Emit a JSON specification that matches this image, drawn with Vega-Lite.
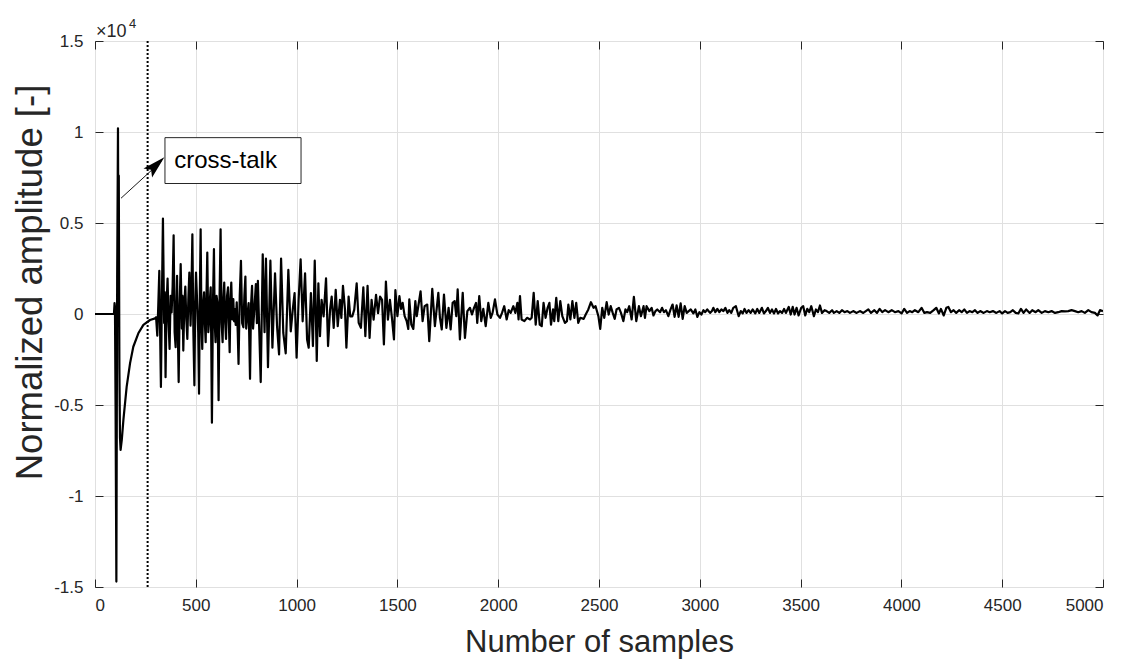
{
  "$schema": "https://vega.github.io/schema/vega-lite/v6.json",
  "autosize": {"type": "none"},
  "padding": {"left": 95, "top": 41, "right": 25, "bottom": 73},
  "width": 1008,
  "height": 546,
  "background": "white",
  "config": {
    "font": "Liberation Sans",
    "view": {"stroke": "#262626", "strokeWidth": 1}
  },
  "resolve": {"axis": {"x": "independent", "y": "independent"}},
  "layer": [
    {
      "data": {"values": [
        {"s":0,"a":0},{"s":94,"a":0},{"s":97,"a":0.06},{"s":99,"a":0.04},{"s":102,"a":-0.5},{"s":106,"a":-1.47},{"s":110,"a":0.2},{"s":114,"a":1.02},{"s":116,"a":0.3},{"s":118,"a":0.76},{"s":121,"a":-0.3},{"s":124,"a":-0.68},{"s":127,"a":-0.747},{"s":133,"a":-0.69},{"s":141,"a":-0.58},{"s":157,"a":-0.4},{"s":174,"a":-0.27},{"s":190,"a":-0.18},{"s":215,"a":-0.106},{"s":240,"a":-0.06},{"s":273,"a":-0.033},{"s":298,"a":-0.024},{"s":303,"a":-0.018},
        {"s":309,"a":-0.119},{"s":314,"a":0.05},{"s":319,"a":0.237},{"s":323,"a":-0.1},{"s":327,"a":-0.401},{"s":332,"a":0.1},{"s":337,"a":0.524},{"s":343,"a":-0.05},{"s":346,"a":0.12},{"s":350,"a":-0.347},{"s":355,"a":0.05},{"s":360,"a":0.195},{"s":365,"a":-0.05},{"s":370,"a":-0.192},{"s":375,"a":0.1},{"s":380,"a":0.009},{"s":385,"a":0.15},{"s":390,"a":0.432},{"s":395,"a":-0.1},{"s":400,"a":-0.182},{"s":404,"a":0.05},{"s":407,"a":0.21},{"s":411,"a":-0.1},{"s":415,"a":-0.374},{"s":420,"a":0.05},{"s":425,"a":0.274},{"s":431,"a":-0.08},{"s":434,"a":0.1},{"s":438,"a":-0.201},{"s":443,"a":0.05},{"s":448,"a":0.151},{"s":453,"a":-0.03},{"s":458,"a":-0.137},{"s":463,"a":0.08},{"s":468,"a":0.228},{"s":474,"a":-0.064},{"s":478,"a":0.1},{"s":483,"a":0.438},{"s":488,"a":-0.1},{"s":493,"a":-0.392},{"s":497,"a":0.05},{"s":501,"a":0.228},{"s":508,"a":0.027},{"s":512,"a":-0.1},{"s":516,"a":-0.438},{"s":520,"a":0.1},{"s":524,"a":0.465},{"s":528,"a":-0.05},{"s":532,"a":-0.192},{"s":536,"a":0.05},{"s":541,"a":0.119},{"s":545,"a":-0.05},{"s":549,"a":-0.155},{"s":553,"a":0.1},{"s":557,"a":0.338},{"s":562,"a":-0.1},{"s":567,"a":-0.027},{"s":570,"a":0.08},{"s":574,"a":0.146},{"s":577,"a":-0.2},{"s":580,"a":-0.597},{"s":585,"a":0.05},{"s":590,"a":0.356},{"s":594,"a":-0.05},{"s":598,"a":-0.155},{"s":603,"a":0.1},{"s":607,"a":0.064},{"s":610,"a":-0.15},{"s":613,"a":-0.474},{"s":618,"a":0.1},{"s":623,"a":0.465},{"s":628,"a":-0.05},{"s":633,"a":-0.155},{"s":637,"a":0.08},{"s":641,"a":0.173},{"s":646,"a":-0.05},{"s":650,"a":-0.137},{"s":655,"a":0.1},{"s":660,"a":0.146},{"s":664,"a":-0.05},{"s":668,"a":-0.21},{"s":672,"a":0.08},{"s":676,"a":0.173},{"s":681,"a":-0.03},{"s":686,"a":0.082},{"s":690,"a":-0.04},{"s":694,"a":0.027},{"s":698,"a":-0.06},{"s":703,"a":0.064},{"s":708,"a":-0.1},{"s":712,"a":-0.274},{"s":718,"a":0.1},{"s":724,"a":0.292},{"s":730,"a":-0.05},{"s":736,"a":-0.073},{"s":741,"a":0.1},{"s":746,"a":0.206},{"s":750,"a":-0.08},{"s":755,"a":-0.018},{"s":762,"a":0.06},{"s":769,"a":-0.356},{"s":774,"a":0.05},{"s":779,"a":0.155},{"s":784,"a":-0.08},{"s":789,"a":0},{"s":798,"a":0.164},{"s":803,"a":-0.05},{"s":808,"a":0.182},{"s":815,"a":-0.1},{"s":822,"a":-0.374},{"s":832,"a":0.328},{"s":841,"a":-0.1},{"s":848,"a":0.305},{"s":858,"a":-0.292},
        {"s":870,"a":0.293},{"s":880,"a":-0.185},{"s":893,"a":0.224},{"s":903,"a":-0.067},{"s":913,"a":-0.222},{"s":923,"a":0.305},{"s":934,"a":-0.104},{"s":946,"a":-0.216},{"s":959,"a":0.242},{"s":971,"a":-0.095},{"s":981,"a":0.024},{"s":990,"a":0.115},{"s":1000,"a":-0.24},{"s":1010,"a":0.078},{"s":1020,"a":0.3},{"s":1030,"a":-0.04},{"s":1042,"a":0.224},{"s":1052,"a":-0.14},{"s":1060,"a":-0.185},{"s":1071,"a":0.115},{"s":1081,"a":-0.176},{"s":1090,"a":0.293},{"s":1100,"a":-0.258},{"s":1108,"a":0.169},{"s":1116,"a":-0.122},{"s":1124,"a":0.078},{"s":1134,"a":-0.013},{"s":1146,"a":0.196},{"s":1156,"a":-0.176},{"s":1166,"a":0.024},{"s":1174,"a":0.096},{"s":1184,"a":-0.076},{"s":1194,"a":0.133},{"s":1204,"a":-0.067},{"s":1215,"a":0.078},{"s":1222,"a":-0.022},{"s":1230,"a":0.155},{"s":1240,"a":0.024},{"s":1247,"a":-0.185},{"s":1258,"a":0.096},{"s":1266,"a":-0.013},{"s":1276,"a":-0.013},{"s":1286,"a":0.024},{"s":1298,"a":0.169},{"s":1308,"a":-0.049},{"s":1319,"a":-0.076},{"s":1331,"a":0.147},{"s":1341,"a":-0.122},{"s":1352,"a":0.155},{"s":1362,"a":-0.131},{"s":1372,"a":0.078},{"s":1382,"a":-0.031},{"s":1394,"a":0.105},{"s":1404,"a":0.005},{"s":1414,"a":0.096},{"s":1424,"a":0.078},{"s":1433,"a":-0.167},{"s":1443,"a":0.178},{"s":1453,"a":-0.031},{"s":1463,"a":0.078},{"s":1473,"a":-0.022},{"s":1483,"a":-0.14},
        {"s":1490,"a":0.131},{"s":1500,"a":-0.012},{"s":1510,"a":0.098},{"s":1518,"a":0.028},{"s":1526,"a":0.061},{"s":1536,"a":-0.012},{"s":1546,"a":-0.039},{"s":1554,"a":-0.082},{"s":1559,"a":0.08},{"s":1569,"a":-0.058},{"s":1579,"a":-0.082},{"s":1589,"a":0.071},{"s":1596,"a":-0.012},{"s":1605,"a":0.052},{"s":1615,"a":0.125},{"s":1625,"a":-0.039},{"s":1635,"a":0.043},{"s":1648,"a":0.052},{"s":1658,"a":-0.149},{"s":1673,"a":0.138},{"s":1686,"a":-0.067},{"s":1703,"a":0.116},{"s":1711,"a":-0.021},{"s":1720,"a":-0.085},{"s":1731,"a":0.107},{"s":1743,"a":-0.076},{"s":1754,"a":0.034},{"s":1764,"a":-0.085},{"s":1774,"a":0.061},{"s":1784,"a":0.071},{"s":1792,"a":-0.012},{"s":1799,"a":0.135},{"s":1810,"a":-0.14},{"s":1824,"a":0.116},{"s":1835,"a":-0.131},{"s":1847,"a":0.016},{"s":1860,"a":0.034},{"s":1870,"a":-0.003},{"s":1880,"a":0.034},{"s":1890,"a":0.061},{"s":1896,"a":-0.049},{"s":1906,"a":0.098},{"s":1916,"a":-0.039},{"s":1926,"a":0.028},{"s":1938,"a":-0.067},{"s":1951,"a":0.061},{"s":1963,"a":-0.021},{"s":1972,"a":0.006},{"s":1984,"a":0.08},{"s":1996,"a":-0.003},{"s":2009,"a":-0.021},{"s":2019,"a":0.006},{"s":2030,"a":0.043},{"s":2042,"a":-0.03},{"s":2052,"a":0.021},{"s":2062,"a":0.006},{"s":2075,"a":0.043},{"s":2085,"a":0.006},{"s":2095,"a":0.061},{"s":2101,"a":-0.03},
        {"s":2108,"a":0.098},{"s":2116,"a":-0.03},{"s":2130,"a":-0.039},{"s":2143,"a":-0.021},{"s":2158,"a":-0.03},{"s":2166,"a":-0.021},{"s":2176,"a":0.116},{"s":2186,"a":-0.058},{"s":2196,"a":0.071},{"s":2206,"a":-0.058},{"s":2216,"a":-0.067},{"s":2225,"a":0.061},{"s":2235,"a":-0.021},{"s":2245,"a":0.034},{"s":2254,"a":0.061},{"s":2262,"a":-0.058},{"s":2272,"a":0.025},{"s":2278,"a":-0.039},{"s":2288,"a":0.089},{"s":2298,"a":-0.039},{"s":2308,"a":0.071},{"s":2318,"a":-0.012},{"s":2331,"a":-0.049},{"s":2341,"a":-0.039},{"s":2348,"a":0.052},{"s":2358,"a":-0.03},{"s":2368,"a":0.071},{"s":2378,"a":-0.021},{"s":2387,"a":0.061},{"s":2397,"a":-0.049},{"s":2407,"a":-0.021},{"s":2424,"a":-0.027},{"s":2434,"a":-0.003},{"s":2447,"a":0.025},{"s":2460,"a":0.065},{"s":2473,"a":0.034},{"s":2483,"a":0.043},{"s":2497,"a":-0.012},{"s":2506,"a":-0.082},{"s":2516,"a":0.034},{"s":2526,"a":-0.021},{"s":2538,"a":0.065},{"s":2548,"a":-0.003},{"s":2558,"a":0.043},{"s":2568,"a":0.006},{"s":2578,"a":-0.027},{"s":2587,"a":0.025},{"s":2599,"a":0.034},{"s":2609,"a":0.006},{"s":2621,"a":-0.039},{"s":2631,"a":0.025},{"s":2640,"a":0.01},{"s":2650,"a":0.043},{"s":2662,"a":-0.03},{"s":2673,"a":0.094},{"s":2685,"a":-0.039},{"s":2698,"a":0.043},{"s":2708,"a":-0.012},{"s":2721,"a":0.043},
        {"s":2728,"a":-0.021},{"s":2736,"a":0.043},{"s":2750,"a":0.016},{"s":2761,"a":0.034},{"s":2770,"a":-0.008},{"s":2780,"a":0.016},{"s":2789,"a":0.025},{"s":2803,"a":0.01},{"s":2813,"a":0.034},{"s":2822,"a":0.01},{"s":2832,"a":0.021},{"s":2844,"a":-0.012},{"s":2855,"a":0.025},{"s":2865,"a":0.052},{"s":2875,"a":-0.016},{"s":2885,"a":0.047},{"s":2895,"a":-0.016},{"s":2905,"a":0.058},{"s":2915,"a":-0.027},{"s":2925,"a":0.043},{"s":2935,"a":0.006},{"s":2945,"a":0.016},{"s":2955,"a":0.025},{"s":2968,"a":0.003},{"s":2978,"a":0.025},{"s":2988,"a":-0.016},{"s":2998,"a":0.01},{"s":3008,"a":-0.003},{"s":3018,"a":0.021},{"s":3027,"a":0.01},{"s":3037,"a":0.025},{"s":3051,"a":0.006},{"s":3060,"a":0.016},{"s":3067,"a":0.034},{"s":3077,"a":0.01},{"s":3087,"a":0.028},{"s":3097,"a":0.01},{"s":3107,"a":0.025},{"s":3117,"a":0.016},{"s":3127,"a":0.034},{"s":3137,"a":0.006},{"s":3146,"a":0.021},{"s":3156,"a":0.006},{"s":3166,"a":0.034},{"s":3179,"a":0.043},{"s":3193,"a":-0.012},{"s":3203,"a":0.016},{"s":3213,"a":0.003},{"s":3222,"a":0.028},{"s":3232,"a":0.006},{"s":3242,"a":0.021},{"s":3252,"a":0.006},{"s":3262,"a":0.025},{"s":3275,"a":0.003},{"s":3285,"a":0.028},{"s":3295,"a":0.006},{"s":3308,"a":0.034},{"s":3318,"a":0.003},{"s":3328,"a":0.016},{"s":3338,"a":0.034},{"s":3348,"a":0.006},{"s":3358,"a":0.025},{"s":3368,"a":0.003},{"s":3378,"a":0.028},{"s":3388,"a":0.003},{"s":3398,"a":0.016},{"s":3408,"a":0.006},{"s":3418,"a":0.028},{"s":3427,"a":0.006},{"s":3441,"a":0.039},{"s":3451,"a":-0.003},{"s":3461,"a":0.039},{"s":3470,"a":-0.003},{"s":3480,"a":0.034},{"s":3490,"a":-0.008},{"s":3503,"a":0.034},{"s":3513,"a":0.043},{"s":3523,"a":-0.008},{"s":3533,"a":0.028},{"s":3543,"a":0.01},{"s":3553,"a":0.043},{"s":3566,"a":-0.012},{"s":3576,"a":0.025},{"s":3586,"a":0.01},{"s":3596,"a":0.047},{"s":3606,"a":0.006},{"s":3619,"a":0.021},{"s":3629,"a":0.016},{"s":3642,"a":0.006},{"s":3656,"a":0.021},{"s":3665,"a":0.006},{"s":3679,"a":0.016},{"s":3692,"a":0.006},{"s":3705,"a":0.021},{"s":3718,"a":0.01},{"s":3732,"a":0.016},{"s":3745,"a":0.006},{"s":3761,"a":0.016},{"s":3778,"a":0.006},{"s":3794,"a":0.016},{"s":3811,"a":0.006},
        {"s":3836,"a":0.025},{"s":3849,"a":0.006},{"s":3866,"a":0.021},{"s":3879,"a":0.006},{"s":3892,"a":0.028},{"s":3905,"a":0.01},{"s":3919,"a":0.021},{"s":3935,"a":0.01},{"s":3952,"a":0.021},{"s":3968,"a":0.01},{"s":3985,"a":0.016},{"s":4001,"a":0.003},{"s":4014,"a":0.028},{"s":4028,"a":0.006},{"s":4041,"a":0.016},{"s":4054,"a":0.01},{"s":4067,"a":0.021},{"s":4084,"a":0.01},{"s":4100,"a":0.034},{"s":4114,"a":0.006},{"s":4127,"a":0.01},{"s":4143,"a":0.006},{"s":4160,"a":0.021},{"s":4173,"a":0.034},{"s":4186,"a":0.003},{"s":4196,"a":0.028},{"s":4210,"a":-0.008},{"s":4223,"a":0.034},{"s":4233,"a":0.039},{"s":4246,"a":0.01},{"s":4259,"a":0.021},{"s":4272,"a":0.006},{"s":4286,"a":0.021},{"s":4299,"a":0.01},{"s":4312,"a":0.025},{"s":4325,"a":0.006},{"s":4338,"a":0.016},{"s":4352,"a":0.01},{"s":4365,"a":0.021},{"s":4378,"a":0.006},{"s":4391,"a":0.016},{"s":4408,"a":0.006},{"s":4424,"a":0.016},{"s":4438,"a":0.01},{"s":4454,"a":0.016},{"s":4471,"a":0.006},{"s":4487,"a":0.016},{"s":4500,"a":0.003},{"s":4514,"a":0.016},{"s":4527,"a":0.006},{"s":4540,"a":0.01},{"s":4553,"a":0.021},{"s":4567,"a":0.006},{"s":4580,"a":0.003},{"s":4593,"a":0.028},{"s":4606,"a":0.006},{"s":4619,"a":0.025},{"s":4636,"a":0.006},{"s":4649,"a":0.021},{"s":4666,"a":0.01},{"s":4679,"a":0.021},{"s":4696,"a":0.006},{"s":4712,"a":0.016},{"s":4729,"a":0.01},{"s":4745,"a":0.016},{"s":4762,"a":0.006},{"s":4778,"a":0.01},{"s":4795,"a":0.016},{"s":4811,"a":0.014},{"s":4828,"a":0.016},{"s":4844,"a":0.021},{"s":4861,"a":0.016},{"s":4877,"a":0.01},{"s":4894,"a":0.016},{"s":4910,"a":0.006},{"s":4927,"a":0.021},{"s":4943,"a":0.01},{"s":4960,"a":0.006},{"s":4973,"a":-0.008},{"s":4985,"a":0.021},{"s":5000,"a":0.016}
      ]},
      "mark": {"type": "line", "color": "#000000", "strokeWidth": 2.2, "strokeJoin": "round", "clip": true},
      "encoding": {
        "x": {
          "field": "s", "type": "quantitative",
          "scale": {"domain": [0, 5000], "nice": false, "zero": false},
          "axis": {
            "orient": "bottom",
            "values": [0, 500, 1000, 1500, 2000, 2500, 3000, 3500, 4000, 4500, 5000],
            "labelExpr": "datum.value + ''",
            "grid": true, "gridColor": "#e0e0e0", "gridWidth": 1,
            "domain": false,
            "ticks": true, "tickSize": -8, "tickColor": "#262626", "tickWidth": 1,
            "labelFontSize": 17, "labelColor": "#262626", "labelPadding": 18, "labelFont": "Liberation Sans",
            "title": "Number of samples", "titleFontSize": 31, "titleFontWeight": "normal", "titleColor": "#262626", "titleFont": "Liberation Sans",
            "titleY": 64, "titleBaseline": "alphabetic"
          }
        },
        "y": {
          "field": "a", "type": "quantitative",
          "scale": {"domain": [-1.5, 1.5], "nice": false, "zero": false},
          "axis": {
            "orient": "left",
            "values": [-1.5, -1, -0.5, 0, 0.5, 1, 1.5],
            "labelExpr": "datum.value + ''",
            "grid": true, "gridColor": "#e0e0e0", "gridWidth": 1,
            "domain": false,
            "ticks": true, "tickSize": -8, "tickColor": "#262626", "tickWidth": 1,
            "labelFontSize": 17, "labelColor": "#262626", "labelPadding": 20, "labelFont": "Liberation Sans",
            "title": "Normalized amplitude [-]", "titleFontSize": 36.5, "titleFontWeight": "normal", "titleColor": "#262626", "titleFont": "Liberation Sans",
            "titleX": -54, "titleY": 241, "titleBaseline": "alphabetic", "titleAngle": -90, "titleAlign": "center"
          }
        }
      }
    },
    {
      "data": {"values": [{}]},
      "mark": {"type": "rule", "color": "#000000", "strokeWidth": 2, "strokeDash": [2, 2]},
      "encoding": {
        "x": {"datum": 261, "type": "quantitative", "axis": {
          "orient": "top", "values": [0, 500, 1000, 1500, 2000, 2500, 3000, 3500, 4000, 4500, 5000],
          "labels": false, "grid": false, "domain": false, "ticks": true, "tickSize": -8, "tickColor": "#262626", "title": null}},
        "y": {"datum": -1.5, "type": "quantitative", "axis": {
          "orient": "right", "values": [-1.5, -1, -0.5, 0, 0.5, 1, 1.5],
          "labels": false, "grid": false, "domain": false, "ticks": true, "tickSize": -8, "tickColor": "#262626", "title": null}},
        "y2": {"datum": 1.5}
      }
    },
    {
      "data": {"values": [{}]},
      "mark": {"type": "rule", "color": "#1a1a1a", "strokeWidth": 1},
      "encoding": {
        "x": {"datum": 129, "type": "quantitative", "axis": null},
        "y": {"datum": 0.636, "type": "quantitative", "axis": null},
        "x2": {"datum": 330},
        "y2": {"datum": 0.84}
      }
    },
    {
      "data": {"values": [{}]},
      "mark": {"type": "rect", "fill": "#ffffff", "stroke": "#262626", "strokeWidth": 1},
      "encoding": {
        "x": {"datum": 347, "type": "quantitative", "axis": null},
        "x2": {"datum": 1022},
        "y": {"datum": 0.969, "type": "quantitative", "axis": null},
        "y2": {"datum": 0.717}
      }
    },
    {
      "data": {"values": [{}]},
      "mark": {"type": "text", "text": "cross-talk", "align": "left", "baseline": "alphabetic", "fontSize": 24, "font": "Liberation Sans", "color": "#000000"},
      "encoding": {
        "x": {"datum": 393, "type": "quantitative", "axis": null},
        "y": {"datum": 0.8, "type": "quantitative", "axis": null}
      }
    },
    {
      "data": {"values": [{}]},
      "mark": {"type": "point", "shape": "M0,0L0.55,2L0,1.6L-0.55,2Z", "size": 520, "angle": 46.6, "filled": true, "color": "#000000", "opacity": 1, "strokeWidth": 0},
      "encoding": {
        "x": {"datum": 344, "type": "quantitative", "axis": null},
        "y": {"datum": 0.861, "type": "quantitative", "axis": null}
      }
    },
    {
      "data": {"values": [{}]},
      "mark": {"type": "text", "text": "×10", "align": "left", "baseline": "alphabetic", "fontSize": 18, "font": "Liberation Sans", "color": "#262626", "dx": 1, "dy": -4},
      "encoding": {
        "x": {"datum": 0, "type": "quantitative", "axis": null},
        "y": {"datum": 1.5, "type": "quantitative", "axis": null}
      }
    },
    {
      "data": {"values": [{}]},
      "mark": {"type": "text", "text": "4", "align": "left", "baseline": "alphabetic", "fontSize": 13, "font": "Liberation Sans", "color": "#262626", "dx": 34, "dy": -13},
      "encoding": {
        "x": {"datum": 0, "type": "quantitative", "axis": null},
        "y": {"datum": 1.5, "type": "quantitative", "axis": null}
      }
    }
  ]
}
